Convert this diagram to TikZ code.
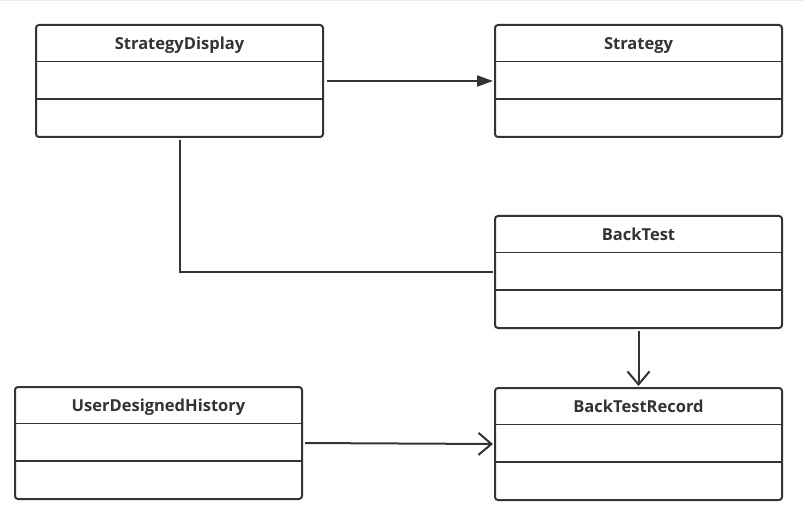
\documentclass[tikz,border=0pt]{standalone}
\usepackage{fontspec}
\setmainfont{Open Sans}
\usetikzlibrary{arrows.meta,calc}
\definecolor{ink}{HTML}{333333}
\tikzset{
  cls/.style={draw=ink, line width=2pt, rounded corners=3pt, fill=white,
    minimum width=287pt, minimum height=112pt, anchor=north west, inner sep=0pt},
  title/.style={font=\bfseries\fontsize{16.5}{18}\selectfont, text=ink, inner sep=0pt, anchor=base},
  divider/.style={draw=ink, line width=1.6pt},
  conn/.style={draw=ink, line width=2pt},
  openarrow/.style={-{Straight Barb[length=13pt,width=22pt]}},
}
\newcommand{\umlclass}[3]{%
  \node[cls] (#1) at (#2) {};
  \node[title] (#1-t) at ($(#1.north)+(0,25.5)$) {#3};
  \draw[divider] ($(#1.north west)+(0,37.5)$) -- ($(#1.north east)+(0,37.5)$);
  \draw[divider] ($(#1.north west)+(0,75)$) -- ($(#1.north east)+(0,75)$);
}
\begin{document}
\begin{tikzpicture}[x=1pt,y=-1pt]
\useasboundingbox (0,0) rectangle (804,524);
\fill[white] (0,0) rectangle (804,524);
\draw[black!8, line width=1pt] (0,0.5) -- (804,0.5);
\umlclass{sd}{35,24}{StrategyDisplay}
\umlclass{st}{494,24}{Strategy}
\umlclass{bt}{494,215}{BackTest}
\umlclass{btr}{494,387}{BackTestRecord}
\umlclass{udh}{14,386}{UserDesignedHistory}
\draw[conn, -{Triangle[length=16pt,width=11pt]}, shorten <=3pt, shorten >=1pt] (sd.east) -- (st.west);
\draw[conn, shorten <=2pt, shorten >=1pt] (sd.south) |- (bt.west);
\draw[conn, openarrow, shorten <=2pt, shorten >=1pt] (bt.south) -- (btr.north);
\draw[conn, openarrow, shorten <=2pt, shorten >=1pt] (udh.east) -- (btr.west);
\end{tikzpicture}
\end{document}
